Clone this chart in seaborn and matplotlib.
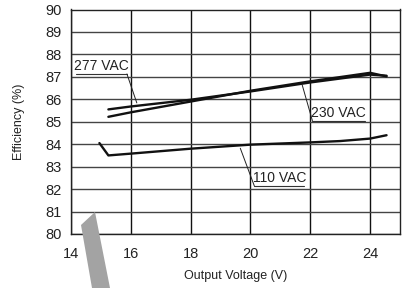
import pandas as pd
import matplotlib.pyplot as plt
import seaborn as sns
from matplotlib.patches import Polygon

# Efficiency curves
v_277 = [15.25, 16, 18, 20, 22, 24, 24.55]
eff_277 = [85.55, 85.68, 85.98, 86.35, 86.75, 87.10, 87.05]

v_230 = [15.25, 16, 18, 20, 22, 24, 24.55]
eff_230 = [85.22, 85.42, 85.90, 86.38, 86.80, 87.18, 87.02]

v_110 = [14.95, 15.25, 16, 18, 20, 22, 23, 24, 24.55]
eff_110 = [84.05, 83.50, 83.58, 83.80, 83.98, 84.08, 84.14, 84.25, 84.40]

x_ticks = [14, 16, 18, 20, 22, 24]
y_ticks = list(range(80, 91))

df = pd.concat([
    pd.DataFrame({"Voltage": v_277, "Efficiency": eff_277, "Input": "277 VAC"}),
    pd.DataFrame({"Voltage": v_230, "Efficiency": eff_230, "Input": "230 VAC"}),
    pd.DataFrame({"Voltage": v_110, "Efficiency": eff_110, "Input": "110 VAC"}),
])

sns.set_style("white")
plt.rcParams["font.family"] = ["Liberation Sans Narrow", "Liberation Sans", "DejaVu Sans"]

fig = plt.figure(figsize=(4.09, 2.88), dpi=100)
ax = fig.add_axes([71 / 409, 1 - 234 / 288, 329 / 409, 224.5 / 288])

sns.lineplot(
    data=df, x="Voltage", y="Efficiency", hue="Input",
    palette=["#111111"] * 3, sort=False, estimator=None,
    linewidth=1.7, legend=False, ax=ax,
)

ax.set_xlim(14, 25)
ax.set_ylim(80, 90)
ax.set_xticks(x_ticks)
ax.set_yticks(y_ticks)
ax.tick_params(length=0, labelsize=10.5, colors="#222222")
ax.tick_params(axis="x", pad=9)
ax.tick_params(axis="y", pad=7)
ax.set_axisbelow(True)
ax.xaxis.grid(True, color="#111111", linewidth=1.0)
ax.yaxis.grid(True, color="#444444", linewidth=1.0)
for s in ax.spines.values():
    s.set_color("#222222")
    s.set_linewidth(1.0)

ax.set_xlabel("Output Voltage (V)", fontsize=9, color="#222222", labelpad=7)
ax.set_ylabel("Efficiency (%)", fontsize=9, color="#222222", labelpad=14)

# Callout labels with underline and leader
labels = [
    ("277 VAC", 14.17, 15.87, 87.13, 15.87, 87.13, 16.2, 85.84),
    ("230 VAC", 22.07, 23.83, 85.05, 22.07, 85.05, 21.73, 86.64),
    ("110 VAC", 20.13, 21.80, 82.14, 20.13, 82.14, 19.66, 83.82),
]
for txt, x0, x1, yu, lx0, ly0, lx1, ly1 in labels:
    ax.plot([x0, x1], [yu, yu], color="#333333", linewidth=0.8)
    ax.plot([lx0, lx1], [ly0, ly1], color="#222222", linewidth=0.7)
    ax.text((x0 + x1) / 2, yu + 0.05, txt, ha="center", va="bottom",
            fontsize=10, color="#222222")

# Grey arrow overlay at lower left
arrow = Polygon(
    [(81 / 409, 1 - 225 / 288), (95 / 409, 1 - 212 / 288),
     (110 / 409, 0), (92 / 409, 0)],
    closed=True, transform=fig.transFigure, facecolor="#a3a3a3",
    edgecolor="none", zorder=10,
)
fig.patches.append(arrow)

fig.savefig("out.png", dpi=100)
